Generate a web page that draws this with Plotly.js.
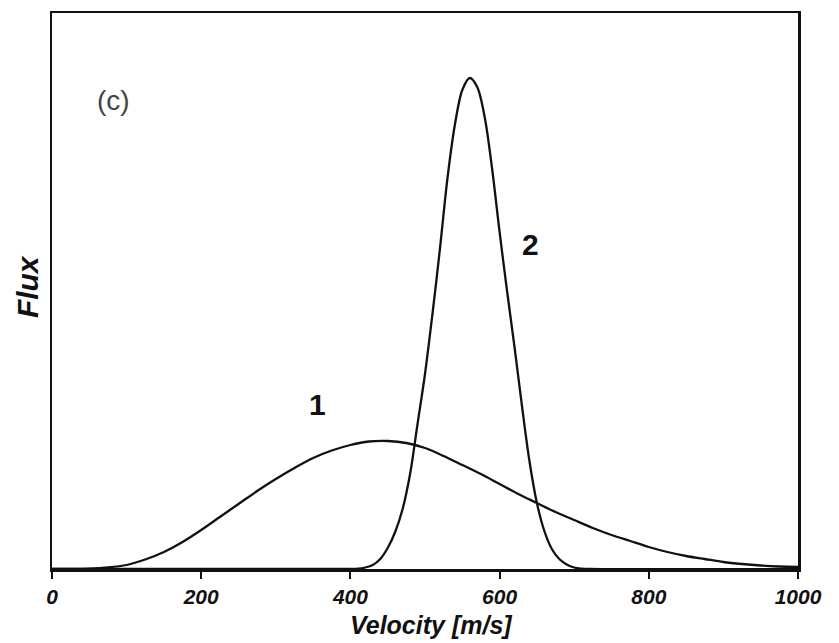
<!DOCTYPE html>
<html>
<head>
<meta charset="utf-8">
<script src="https://cdn.plot.ly/plotly-3.0.1.min.js"></script>
<style>html,body{margin:0;padding:0;background:#fff;}#chart{width:839px;height:643px;}</style>
</head>
<body>
<div id="chart"></div>
<script>
// Curve 1 (broad distribution)
const velocity1 = [0, 25, 50, 75, 100, 125, 150, 175, 200, 225, 250, 275, 300, 325, 350, 375, 400, 425, 450, 475, 500, 525, 550, 575, 600, 625, 650, 675, 700, 725, 750, 775, 800, 825, 850, 875, 900, 925, 950, 975, 1000];
const flux1 =     [0, 0, 0.3, 1.5, 4, 9.5, 17, 27, 39, 52, 65, 78, 90, 101, 111, 118.5, 124, 127.5, 128, 126, 121, 113, 104, 95, 85, 75, 66, 57, 49, 41, 34, 28, 22, 17, 13, 10, 7, 5, 3.5, 2.5, 2];
// Curve 2 (narrow distribution)
const velocity2 = [0, 400, 410, 420, 430, 440, 450, 460, 470, 480, 490, 500, 510, 520, 530, 540, 550, 560, 570, 580, 590, 600, 610, 620, 630, 640, 650, 660, 670, 680, 690, 700, 710, 720, 1000];
const flux2 =     [0, 0, 0.3, 1.5, 4, 10, 21, 37, 60, 95, 145, 195, 255, 320, 390, 444, 479, 491, 482, 452, 400, 337, 278, 222, 163, 108, 66, 38, 20, 10, 4.5, 1.5, 0.4, 0, 0];
const xTicks = [0, 200, 400, 600, 800, 1000];
const curveLabels = [{text: "1", x: 356, y: 165}, {text: "2", x: 641, y: 325}];
const panelLabel = {text: "(c)", x: 82, y: 469};
const xTitle = "Velocity [m/s]";
const yTitle = "Flux";

const lineStyle = {color: "#111", width: 2.3, shape: "spline", smoothing: 0.9};
const traces = [
  {x: velocity1, y: flux1, mode: "lines", line: lineStyle, hoverinfo: "skip"},
  {x: velocity2, y: flux2, mode: "lines", line: lineStyle, hoverinfo: "skip"}
];

const boldItalic = {family: "Liberation Sans, Arial, sans-serif", size: 30, color: "#111", weight: "bold", style: "italic"};
const annotations = curveLabels.map(l => ({
  text: l.text, x: l.x, y: l.y, xref: "x", yref: "y", showarrow: false,
  font: {family: "Liberation Sans, Arial, sans-serif", size: 30, color: "#111", weight: "bold"}
}));
annotations.push({
  text: panelLabel.text, xref: "x", yref: "y", x: panelLabel.x, y: panelLabel.y, showarrow: false,
  font: {family: "Liberation Sans, Arial, sans-serif", size: 28, color: "#444"}
});
annotations.push({
  text: xTitle, xref: "paper", yref: "paper", x: 0.509, y: -0.1007,
  xanchor: "center", yanchor: "middle", showarrow: false,
  font: Object.assign({}, boldItalic, {size: 25})
});
annotations.push({
  text: yTitle, xref: "paper", yref: "paper", x: -0.0335, y: 0.507, textangle: -90,
  xanchor: "center", yanchor: "middle", showarrow: false, font: boldItalic
});

const layout = {
  width: 839, height: 643,
  margin: {l: 52, r: 41, t: 13, b: 74},
  paper_bgcolor: "#fff", plot_bgcolor: "#fff",
  showlegend: false,
  xaxis: {
    range: [0, 1000], tickvals: xTicks, ticktext: xTicks.map(String),
    ticks: "outside", ticklen: 7, tickwidth: 2, tickcolor: "#111",
    showline: true, linecolor: "#111", linewidth: 2.5, mirror: true,
    showgrid: false, zeroline: false,
    tickfont: {family: "Liberation Sans, Arial, sans-serif", size: 21, color: "#111", weight: "bold", style: "italic"},
    automargin: false
  },
  yaxis: {
    range: [0, 556], showticklabels: false, ticks: "",
    showline: true, linecolor: "#111", linewidth: 2.5, mirror: true,
    showgrid: false, zeroline: false,
    automargin: false
  },
  annotations: annotations
};

Plotly.newPlot("chart", traces, layout, {staticPlot: true, displayModeBar: false});
</script>
</body>
</html>
